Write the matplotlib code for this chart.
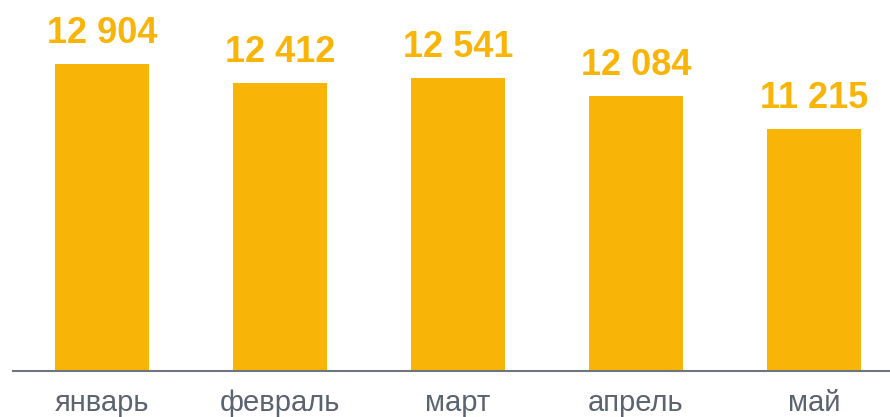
import matplotlib
matplotlib.use("Agg")
import matplotlib.pyplot as plt

categories = ["январь", "февраль", "март", "апрель", "май"]
values = [12904, 12412, 12541, 12084, 11215]
labels = ["12 904", "12 412", "12 541", "12 084", "11 215"]

bar_color = "#F8B507"
text_color = "#5A6370"

plt.rcParams['font.family'] = ['Liberation Sans', 'DejaVu Sans']

fig = plt.figure(figsize=(8.90, 4.17), dpi=100)
ax = fig.add_axes([13/890, 46/417, 877/890, 371/417])

x = list(range(len(categories)))
ax.bar(x, values, width=0.528, color=bar_color, zorder=2)
ax.set_xlim(-0.5, 4.427)
ax.set_ylim(4926, 14567)

for xi, v, lab in zip(x, values, labels):
    ax.annotate(lab, (xi, v), xytext=(0, 13), textcoords="offset pixels",
                ha="center", va="bottom", fontsize=26, fontweight="bold",
                color=bar_color)

for s in ["top", "right", "left"]:
    ax.spines[s].set_visible(False)
ax.spines["bottom"].set_color("#6E747C")
ax.spines["bottom"].set_linewidth(1.5)
ax.set_yticks([])
ax.set_xticks(x)
ax.set_xticklabels(categories, fontsize=21, color=text_color)
ax.tick_params(axis="x", length=0, pad=13)

fig.savefig("out.png", dpi=100)
